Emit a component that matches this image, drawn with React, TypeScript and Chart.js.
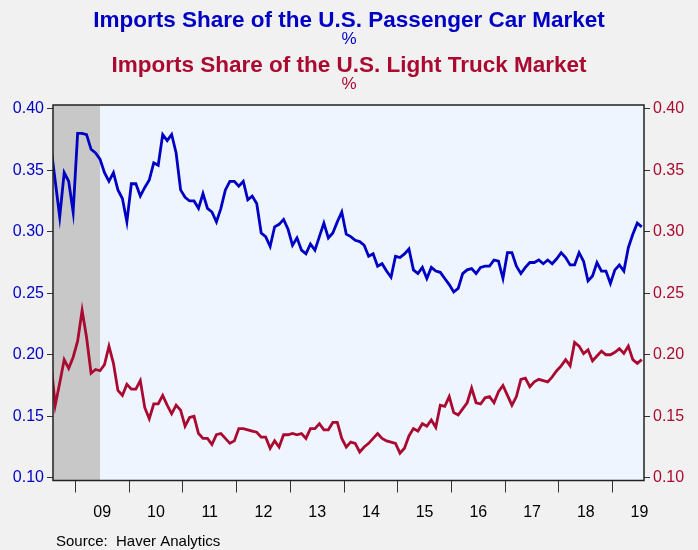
import React, { useEffect, useRef } from "react"
import { Chart, ChartConfiguration, Plugin, registerables } from "chart.js"

Chart.register(...registerables)

// Monthly shares, Jul 2008 .. Jul 2019 (first month sits just left of the frame)
const passengerCar = [
	0.370, 0.341, 0.312, 0.348, 0.341, 0.316, 0.380, 0.380, 0.379, 0.367, 0.364, 0.359,
	0.348, 0.341, 0.348, 0.334, 0.327, 0.308, 0.339, 0.339, 0.329, 0.336, 0.342, 0.356,
	0.354, 0.379, 0.374, 0.379, 0.364, 0.334, 0.328, 0.325, 0.325, 0.319, 0.331, 0.319,
	0.316, 0.308, 0.319, 0.334, 0.341, 0.341, 0.337, 0.341, 0.326, 0.329, 0.323, 0.299,
	0.296, 0.288, 0.304, 0.306, 0.310, 0.302, 0.289, 0.295, 0.285, 0.282, 0.290, 0.285,
	0.296, 0.307, 0.295, 0.299, 0.308, 0.316, 0.298, 0.296, 0.293, 0.292, 0.289, 0.280,
	0.282, 0.272, 0.274, 0.268, 0.263, 0.280, 0.279, 0.282, 0.286, 0.269, 0.266, 0.271,
	0.262, 0.271, 0.268, 0.267, 0.262, 0.257, 0.251, 0.254, 0.266, 0.269, 0.270, 0.266,
	0.271, 0.272, 0.272, 0.277, 0.276, 0.262, 0.283, 0.283, 0.272, 0.266, 0.271, 0.275,
	0.275, 0.277, 0.274, 0.277, 0.274, 0.278, 0.283, 0.279, 0.273, 0.273, 0.283, 0.276,
	0.260, 0.264, 0.275, 0.268, 0.268, 0.258, 0.269, 0.273, 0.268, 0.287, 0.298, 0.307,
	0.304,
]

const lightTruck = [
	0.195, 0.159, 0.177, 0.196, 0.189, 0.198, 0.211, 0.236, 0.214, 0.185, 0.188, 0.187,
	0.192, 0.207, 0.193, 0.171, 0.167, 0.176, 0.172, 0.172, 0.179, 0.157, 0.148, 0.160,
	0.160, 0.167, 0.159, 0.152, 0.159, 0.155, 0.142, 0.149, 0.150, 0.136, 0.132, 0.132,
	0.127, 0.135, 0.136, 0.132, 0.128, 0.130, 0.140, 0.140, 0.139, 0.138, 0.137, 0.133,
	0.133, 0.124, 0.130, 0.125, 0.135, 0.135, 0.136, 0.135, 0.136, 0.132, 0.140, 0.140,
	0.144, 0.139, 0.139, 0.145, 0.145, 0.132, 0.125, 0.129, 0.128, 0.121, 0.125, 0.128,
	0.132, 0.136, 0.132, 0.130, 0.129, 0.128, 0.120, 0.124, 0.134, 0.140, 0.138, 0.144,
	0.142, 0.147, 0.141, 0.159, 0.158, 0.166, 0.153, 0.151, 0.156, 0.161, 0.173, 0.161,
	0.160, 0.165, 0.166, 0.161, 0.170, 0.175, 0.167, 0.159, 0.166, 0.180, 0.181, 0.174,
	0.178, 0.180, 0.179, 0.178, 0.182, 0.187, 0.191, 0.196, 0.191, 0.210, 0.207, 0.201,
	0.204, 0.195, 0.199, 0.203, 0.200, 0.200, 0.202, 0.205, 0.201, 0.207, 0.196, 0.193,
	0.196,
]

const firstMonth = "2008-07"
const months: string[] = passengerCar.map((_, i) => {
	const [y, m] = firstMonth.split("-").map(Number)
	const n = y * 12 + (m - 1) + i
	return `${Math.floor(n / 12)}-${String((n % 12) + 1).padStart(2, "0")}`
})

const axisStart = "2008-08"
const axisEnd = "2019-08"
const recessionStart = "2007-12"
const recessionEnd = "2009-06"

const yearTicks = [2009, 2010, 2011, 2012, 2013, 2014, 2015, 2016, 2017, 2018, 2019]
const yearLabels = ["09", "10", "11", "12", "13", "14", "15", "16", "17", "18", "19"]
const shareTicks = [0.1, 0.15, 0.2, 0.25, 0.3, 0.35, 0.4]

const carTitle = "Imports Share of the U.S. Passenger Car Market"
const truckTitle = "Imports Share of the U.S. Light Truck Market"
const unitLabel = "%"
const sourceNote = "Source:  Haver Analytics"

const BLUE = "#0000c4"
const RED = "#aa0a30"
const FONT = "'Liberation Sans', Arial, sans-serif"

// start of a month as decimal year
const monthStart = (s: string) => {
	const [y, m] = s.split("-").map(Number)
	return y + (m - 1) / 12
}
// monthly values are plotted mid-month
const monthMid = (s: string) => monthStart(s) + 1 / 24

const decor: Plugin = {
	id: "decor",
	beforeDraw(chart) {
		const { ctx, chartArea: a, width, height } = chart
		const x = chart.scales.x
		ctx.save()
		ctx.fillStyle = "#f1f1f1"
		ctx.fillRect(0, 0, width, height)
		ctx.fillStyle = "#eef5ff"
		ctx.fillRect(a.left, a.top, a.right - a.left, a.bottom - a.top)
		const r0 = Math.max(a.left, x.getPixelForValue(monthStart(recessionStart)))
		const r1 = x.getPixelForValue(monthMid(recessionEnd))
		ctx.fillStyle = "#c8c8c8"
		ctx.fillRect(r0, a.top, r1 - r0, a.bottom - a.top)
		ctx.restore()
	},
	afterDraw(chart) {
		const { ctx, chartArea: a, width } = chart
		ctx.save()
		ctx.strokeStyle = "#222"
		ctx.lineWidth = 1.5
		ctx.strokeRect(a.left, a.top, a.right - a.left, a.bottom - a.top)
		ctx.textAlign = "center"
		ctx.textBaseline = "alphabetic"
		const cx = width / 2
		ctx.fillStyle = BLUE
		ctx.font = `bold 22.5px ${FONT}`
		ctx.fillText(carTitle, cx, 27)
		ctx.font = `17px ${FONT}`
		ctx.fillText(unitLabel, cx, 44)
		ctx.fillStyle = RED
		ctx.font = `bold 22.5px ${FONT}`
		ctx.fillText(truckTitle, cx, 72)
		ctx.font = `17px ${FONT}`
		ctx.fillText(unitLabel, cx, 89)
		ctx.fillStyle = "#000"
		ctx.textAlign = "left"
		ctx.font = `15px ${FONT}`
		ctx.fillText(sourceNote, 56, 546)
		ctx.restore()
	},
}

export default function App() {
	const chartRef = useRef<HTMLCanvasElement | null>(null)
	const chartInstance = useRef<Chart | null>(null)

	useEffect(() => {
		if (chartInstance.current) {
			chartInstance.current.destroy()
		}
		if (!chartRef.current) return
		const ctx = chartRef.current.getContext("2d")
		if (!ctx) return

		const tickGrid = (len: number) => ({
			drawOnChartArea: false,
			drawTicks: true,
			tickLength: len,
			color: "#333",
			lineWidth: 1,
		})

		const config: ChartConfiguration = {
			type: "line",
			data: {
				datasets: [
					{
						label: "Passenger Car",
						data: months.map((m, i) => ({ x: monthMid(m), y: passengerCar[i] })),
						borderColor: BLUE,
						borderWidth: 2.8,
						pointRadius: 0,
						tension: 0,
						yAxisID: "y",
					},
					{
						label: "Light Truck",
						data: months.map((m, i) => ({ x: monthMid(m), y: lightTruck[i] })),
						borderColor: RED,
						borderWidth: 2.8,
						pointRadius: 0,
						tension: 0,
						yAxisID: "y2",
					},
				],
			},
			plugins: [decor],
			options: {
				animation: false,
				responsive: false,
				layout: { padding: { top: 105, left: 0, right: 0, bottom: 0 } },
				plugins: {
					legend: { display: false },
					title: { display: false },
					tooltip: { enabled: false },
				},
				scales: {
					x: {
						type: "linear",
						min: monthStart(axisStart),
						max: monthStart(axisEnd),
						afterBuildTicks: (s: any) => {
							const marks = yearTicks.map((v) => ({ value: v }))
							const mids = yearTicks.map((v) => ({ value: v + 0.5 }))
							s.ticks = [...marks, ...mids]
						},
						afterFit: (s: any) => {
							s.height = 69.5
						},
						grid: {
							...tickGrid(12),
							color: (c: any) => (c.tick && c.tick.value % 1 === 0 ? "#333" : "rgba(0,0,0,0)"),
						},
						border: { display: false },
						ticks: {
							autoSkip: false,
							maxRotation: 0,
							padding: 10,
							color: "#000",
							font: { family: FONT, size: 16 },
							callback: (v: any) => {
								const n = Number(v)
								return n % 1 === 0 ? "" : yearLabels[yearTicks.indexOf(Math.floor(n))]
							},
						},
					},
					y: {
						position: "left",
						min: 0.0978,
						max: 0.403,
						afterBuildTicks: (s: any) => {
							s.ticks = shareTicks.map((v) => ({ value: v }))
						},
						afterFit: (s: any) => {
							s.width = 53
						},
						grid: tickGrid(6),
						border: { display: false },
						ticks: {
							padding: 3,
							color: BLUE,
							font: { family: FONT, size: 16 },
							callback: (v: any) => Number(v).toFixed(2),
						},
					},
					y2: {
						position: "right",
						min: 0.0978,
						max: 0.403,
						afterBuildTicks: (s: any) => {
							s.ticks = shareTicks.map((v) => ({ value: v }))
						},
						afterFit: (s: any) => {
							s.width = 54
						},
						grid: tickGrid(6),
						border: { display: false },
						ticks: {
							padding: 3,
							color: RED,
							font: { family: FONT, size: 16 },
							callback: (v: any) => Number(v).toFixed(2),
						},
					},
				},
			},
		}

		chartInstance.current = new Chart(ctx, config)

		return () => {
			if (chartInstance.current) {
				chartInstance.current.destroy()
				chartInstance.current = null
			}
		}
	}, [])

	return (
		<div style={{ position: "fixed", left: 0, top: 0, width: 698, height: 550, background: "#f1f1f1" }}>
			<canvas ref={chartRef} width={698} height={550} style={{ width: 698, height: 550 }}></canvas>
		</div>
	)
}
